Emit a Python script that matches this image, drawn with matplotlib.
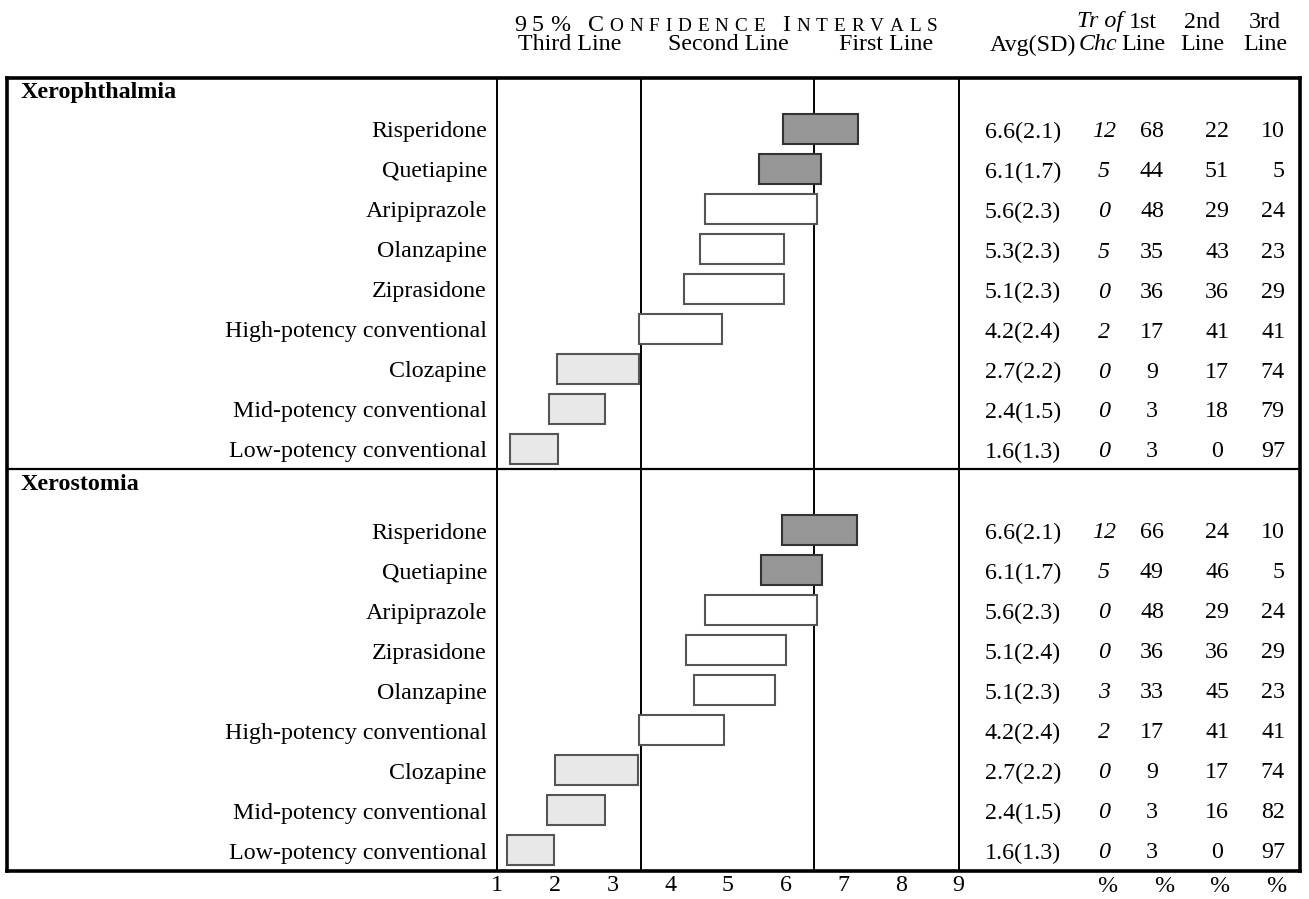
import matplotlib
matplotlib.use("Agg")
import matplotlib.pyplot as plt
from matplotlib.transforms import blended_transform_factory
from matplotlib.lines import Line2D

plt.rcParams["font.family"] = "Liberation Serif"

# ---- data ----
panels = ["Xerophthalmia", "Xerostomia"]

drugs_xph = ["Risperidone", "Quetiapine", "Aripiprazole", "Olanzapine", "Ziprasidone",
             "High-potency conventional", "Clozapine", "Mid-potency conventional",
             "Low-potency conventional"]
ci_lo_xph = [5.95, 5.54, 4.60, 4.52, 4.23, 3.45, 2.03, 1.90, 1.22]
ci_hi_xph = [7.26, 6.61, 6.54, 5.97, 5.97, 4.90, 3.46, 2.87, 2.05]
tier_xph = ["first", "first", "second", "second", "second", "second", "third", "third", "third"]
avg_xph = [6.6, 6.1, 5.6, 5.3, 5.1, 4.2, 2.7, 2.4, 1.6]
sd_xph = [2.1, 1.7, 2.3, 2.3, 2.3, 2.4, 2.2, 1.5, 1.3]
trchc_xph = [12, 5, 0, 5, 0, 2, 0, 0, 0]
first_xph = [68, 44, 48, 35, 36, 17, 9, 3, 3]
second_xph = [22, 51, 29, 43, 36, 41, 17, 18, 0]
third_xph = [10, 5, 24, 23, 29, 41, 74, 79, 97]

drugs_xst = ["Risperidone", "Quetiapine", "Aripiprazole", "Ziprasidone", "Olanzapine",
             "High-potency conventional", "Clozapine", "Mid-potency conventional",
             "Low-potency conventional"]
ci_lo_xst = [5.93, 5.57, 4.60, 4.27, 4.42, 3.46, 2.00, 1.87, 1.17]
ci_hi_xst = [7.24, 6.64, 6.54, 6.01, 5.82, 4.93, 3.44, 2.87, 1.99]
tier_xst = ["first", "first", "second", "second", "second", "second", "third", "third", "third"]
avg_xst = [6.6, 6.1, 5.6, 5.1, 5.1, 4.2, 2.7, 2.4, 1.6]
sd_xst = [2.1, 1.7, 2.3, 2.4, 2.3, 2.4, 2.2, 1.5, 1.3]
trchc_xst = [12, 5, 0, 0, 3, 2, 0, 0, 0]
first_xst = [66, 49, 48, 36, 33, 17, 9, 3, 3]
second_xst = [24, 46, 29, 36, 45, 41, 17, 16, 0]
third_xst = [10, 5, 24, 29, 23, 41, 74, 82, 97]

zone_edges = [1, 3.5, 6.5, 9]
zone_names = ["Third Line", "Second Line", "First Line"]
tier_colors = {"first": "#969696", "second": "#ffffff", "third": "#e8e8e8"}
tier_edges = {"first": "#333333", "second": "#555555", "third": "#555555"}

# ---- layout (pixels of a 1309x899 canvas) ----
W, H = 1309, 899
ROW = 40.0
TOP, SEP, BOT = 78, 469, 871
LEFT_FRAME, RIGHT_FRAME = 7, 1300
FS = 17.3
TXT_DY = 3 / ROW  # text sits a little lower than bbox centre


def fx(px):
    return px / W


def fy(py):
    return 1 - py / H


fig = plt.figure(figsize=(W / 100, H / 100), dpi=100)
ax = fig.add_axes([fx(497.3), fy(BOT), fx(958.5) - fx(497.3), (BOT - TOP) / H])
ax.set_xlim(1, 9)
ax.set_ylim((BOT - TOP) / ROW, 0)
for s in ax.spines.values():
    s.set_visible(False)
ax.set_yticks([])
ax.set_xticks(range(1, 10))
ax.tick_params(axis="x", length=0, pad=3, labelsize=FS)

row_trans = blended_transform_factory(fig.transFigure, ax.transData)
col_trans = blended_transform_factory(ax.transData, fig.transFigure)

panel_data = [
    (drugs_xph, ci_lo_xph, ci_hi_xph, tier_xph, avg_xph, sd_xph, trchc_xph, first_xph, second_xph, third_xph),
    (drugs_xst, ci_lo_xst, ci_hi_xst, tier_xst, avg_xst, sd_xst, trchc_xst, first_xst, second_xst, third_xst),
]
panel_tops = [0, (SEP - TOP) / ROW]
first_row_off = [(129 - TOP) / ROW, (530 - SEP) / ROW]

for p, (name, data) in enumerate(zip(panels, panel_data)):
    drugs, lo, hi, tier, avg, sd, trchc, c1, c2, c3 = data
    top = panel_tops[p]
    ax.text(fx(21), top + 15 / ROW, name, transform=row_trans, ha="left", va="center",
            fontsize=FS, fontweight="bold")
    ys = [top + first_row_off[p] + i for i in range(len(drugs))]
    widths = [h - l for l, h in zip(lo, hi)]
    ax.barh(ys, widths, left=lo, height=0.73,
            color=[tier_colors[t] for t in tier],
            edgecolor=[tier_edges[t] for t in tier], linewidth=1.5, zorder=3)
    for i, y in enumerate(ys):
        yt = y + TXT_DY
        ax.text(fx(487), yt, drugs[i], transform=row_trans, ha="right", va="center", fontsize=FS)
        ax.text(fx(1023), yt, f"{avg[i]:.1f}({sd[i]:.1f})", transform=row_trans,
                ha="center", va="center", fontsize=FS)
        ax.text(fx(1104), yt, str(trchc[i]), transform=row_trans, ha="center", va="center",
                fontsize=FS, style="italic")
        ax.text(fx(1152), yt, str(c1[i]), transform=row_trans, ha="center", va="center", fontsize=FS)
        ax.text(fx(1217), yt, str(c2[i]), transform=row_trans, ha="center", va="center", fontsize=FS)
        ax.text(fx(1285), yt, str(c3[i]), transform=row_trans, ha="right", va="center", fontsize=FS)

# zone lines
for e in zone_edges:
    ax.axvline(e, color="black", linewidth=1.4, clip_on=False, zorder=2)

# frame and separator
fig.add_artist(Line2D([fx(LEFT_FRAME), fx(RIGHT_FRAME)], [fy(SEP), fy(SEP)], color="black", lw=1.6))
for yy in (TOP, BOT):
    fig.add_artist(Line2D([fx(LEFT_FRAME), fx(RIGHT_FRAME)], [fy(yy), fy(yy)], color="black", lw=2.6))
for xx in (LEFT_FRAME, RIGHT_FRAME):
    fig.add_artist(Line2D([fx(xx), fx(xx)], [fy(TOP), fy(BOT)], color="black", lw=2.6))

# column headers
for i, zn in enumerate(zone_names):
    mid = (zone_edges[i] + zone_edges[i + 1]) / 2
    ax.text(mid, fy(45), zn, transform=col_trans, ha="center", va="center", fontsize=FS)

fig.text(fx(1033), fy(45), "Avg(SD)", ha="center", va="center", fontsize=FS)
fig.text(fx(1100), fy(22), "Tr of", ha="center", va="center", fontsize=FS, style="italic")
fig.text(fx(1098), fy(45), "Chc", ha="center", va="center", fontsize=FS, style="italic")
for xc, top_lbl in zip([1143, 1202, 1265], ["1st", "2nd", "3rd"]):
    fig.text(fx(xc), fy(22), top_lbl, ha="center", va="center", fontsize=FS)
    fig.text(fx(xc), fy(45), "Line", ha="center", va="center", fontsize=FS)

for xc in [1107, 1164, 1219, 1276]:
    fig.text(fx(xc), fy(886), "%", ha="center", va="center", fontsize=FS)

# letter-spaced small-caps title
title_words = ["95%", "CONFIDENCE", "INTERVALS"]
SMALL = FS * 0.8
renderer = fig.canvas.get_renderer()
pieces = []
for w in title_words:
    for k, ch in enumerate(w):
        big = (k == 0) or not ch.isalpha()
        t = fig.text(0, fy(31), ch, fontsize=FS if big else SMALL, ha="left", va="baseline")
        pieces.append((t, t.get_window_extent(renderer).width))
    pieces.append((None, 0))
pieces = pieces[:-1]
n_letters = sum(1 for t, _ in pieces if t is not None)
n_spaces = sum(1 for t, _ in pieces if t is None)
total_w = sum(w for _, w in pieces)
span = 938 - 514
word_gap_factor = 3.0
gap = (span - total_w) / ((n_letters - 1 - n_spaces) + n_spaces * word_gap_factor)
xcur = 514
for t, wdt in pieces:
    if t is None:
        xcur += gap * (word_gap_factor - 1)
        continue
    t.set_x(fx(xcur))
    xcur += wdt + gap

fig.savefig("out.png", dpi=100)
